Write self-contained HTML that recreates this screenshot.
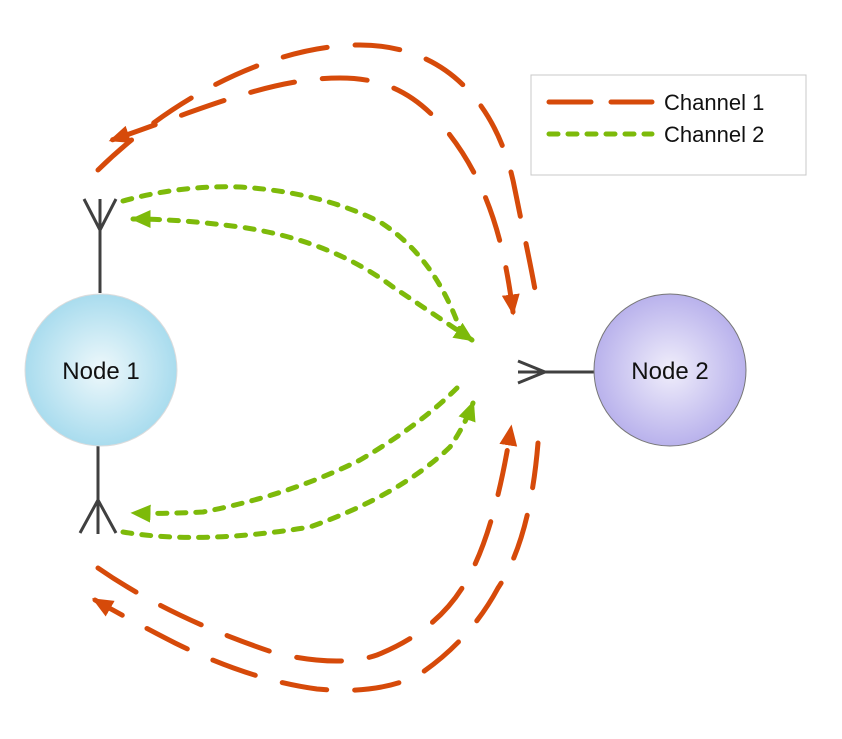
<!DOCTYPE html>
<html><head><meta charset="utf-8"><style>html,body{margin:0;padding:0;background:#fff}svg{display:block}</style></head><body>
<svg width="842" height="739" viewBox="0 0 842 739" xmlns="http://www.w3.org/2000/svg">
<defs>
<radialGradient id="g1" cx="50%" cy="50%" r="50%"><stop offset="0" stop-color="#eef8fb"/><stop offset="1" stop-color="#a9dcee"/></radialGradient>
<radialGradient id="g2" cx="50%" cy="50%" r="50%"><stop offset="0" stop-color="#f0eefb"/><stop offset="1" stop-color="#b9b2ec"/></radialGradient>
<marker id="ao" markerWidth="5" markerHeight="4" refX="3.5" refY="1.8" orient="auto-start-reverse" markerUnits="strokeWidth"><path d="M0,0 L4.2,1.8 L0,3.6 z" fill="#d64a0a"/></marker>
<marker id="ag" markerWidth="5" markerHeight="4" refX="3.5" refY="1.8" orient="auto-start-reverse" markerUnits="strokeWidth"><path d="M0,0 L4,1.8 L0,3.6 z" fill="#7dba0a"/></marker>
</defs>
<g fill="none" stroke-linecap="round" stroke-linejoin="round">
<path d="M98,170 C180,90 280,45 360,45 C450,45 500,110 515,190 C525,240 532,270 538,307" stroke="#d64a0a" stroke-width="5" stroke-dasharray="45,28"/>
<path d="M513,312 C505,250 490,180 440,123 C410,90 380,78 340,78 C270,78 200,110 112,140" stroke="#d64a0a" stroke-width="5" stroke-dasharray="45,28" marker-start="url(#ao)" marker-end="url(#ao)"/>
<path d="M98,568 Q170,618 275,653 Q340,668 377,655 Q440,630 468,578 Q495,530 511,428" stroke="#d64a0a" stroke-width="5" stroke-dasharray="45,28" marker-end="url(#ao)"/>
<path d="M538,443 Q530,540 498,588 Q470,640 420,674 Q380,695 317,689 Q250,680 175,643 Q130,620 95,600" stroke="#d64a0a" stroke-width="5" stroke-dasharray="45,28" marker-end="url(#ao)"/>
<path d="M123,201 Q180,185 240,187 Q320,192 380,222 Q440,260 465,345" stroke="#7dba0a" stroke-width="5" stroke-dasharray="9,10"/>
<path d="M472,340 Q420,305 393,287 Q330,240 240,227 Q180,219 133,219" stroke="#7dba0a" stroke-width="5" stroke-dasharray="9,10" marker-start="url(#ag)" marker-end="url(#ag)"/>
<path d="M123,532 Q200,545 310,527 Q400,495 450,447 Q465,425 473,403" stroke="#7dba0a" stroke-width="5" stroke-dasharray="9,10" marker-end="url(#ag)"/>
<path d="M457,388 Q420,425 360,460 Q290,495 203,512 Q160,514 133,513" stroke="#7dba0a" stroke-width="5" stroke-dasharray="9,10" marker-end="url(#ag)"/>
</g>
<g stroke="#404040" stroke-width="3" fill="none">
<path d="M100,293 V199 M100,230 L84,199 M100,230 L116,199"/>
<path d="M98,445 V534 M98,500 L80,533 M98,500 L116,533"/>
<path d="M595,372 H518 M545,372 L518,361 M545,372 L518,383"/>
</g>
<circle cx="101" cy="370" r="76" fill="url(#g1)" stroke="#dcdcdc" stroke-width="1"/>
<circle cx="670" cy="370" r="76" fill="url(#g2)" stroke="#777" stroke-width="1"/>
<g font-family="Liberation Sans, sans-serif" font-size="24" fill="#111" text-anchor="middle">
<text x="101" y="379">Node 1</text>
<text x="670" y="379">Node 2</text>
</g>
<rect x="531" y="75" width="275" height="100" fill="#fff" stroke="#c8c8c8" stroke-width="1"/>
<line x1="549" y1="102" x2="652" y2="102" stroke="#d64a0a" stroke-width="5" stroke-linecap="round" stroke-dasharray="42,20"/>
<line x1="549" y1="134" x2="652" y2="134" stroke="#7dba0a" stroke-width="5" stroke-linecap="round" stroke-dasharray="9,10"/>
<g font-family="Liberation Sans, sans-serif" font-size="22" fill="#111">
<text x="664" y="110">Channel 1</text>
<text x="664" y="142">Channel 2</text>
</g>
</svg>
</body></html>
